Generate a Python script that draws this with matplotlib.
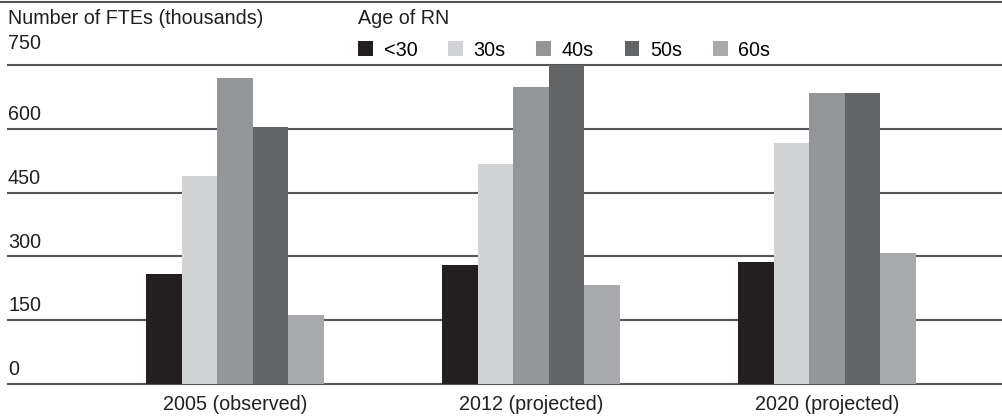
import matplotlib
matplotlib.use("Agg")
import matplotlib.pyplot as plt
import numpy as np
from matplotlib.lines import Line2D
from matplotlib.patches import Patch

# data
groups = ["2005 (observed)", "2012 (projected)", "2020 (projected)"]
ages = ["<30", "30s", "40s", "50s", "60s"]
under30 = [259, 280, 287]
thirties = [489, 517, 567]
forties = [720, 698, 684]
fifties = [605, 752, 684]
sixties = [162, 233, 308]
yticks = [0, 150, 300, 450, 600, 750]

colors = ["#231f20", "#d1d2d4", "#939598", "#636466", "#a7a9ac"]
series = [under30, thirties, forties, fifties, sixties]

plt.rcParams['font.family'] = ['Liberation Sans', 'DejaVu Sans']
plt.rcParams['font.size'] = 14.2

W, H = 1002, 420
fig = plt.figure(figsize=(W / 100, H / 100), dpi=100)
# axes: pixel x 8..1002, y 65 (750) .. 384 (0)
ax = fig.add_axes([8 / W, (H - 384) / H, (W - 8) / W, 319 / H])

x = np.arange(len(groups))
width = 0.12
for i, (vals, c) in enumerate(zip(series, colors)):
    ax.bar(x + (i - 2) * width, vals, width, color=c, zorder=3, linewidth=0)

ax.set_ylim(0, 750)
ax.set_xlim(-227 / 296, 2 + 175 / 296)

# gridlines with labels sitting above them (top label sits a bit higher)
for t in yticks:
    ax.axhline(t, color="#555555", lw=1.5, zorder=2, clip_on=False)
    off = 8.5 if t == yticks[-1] else 3.5
    ax.annotate(str(t), xy=(0, t), xycoords=("axes fraction", "data"),
                xytext=(0, off), textcoords="offset points",
                ha="left", va="bottom", color="#231f20")

for s in ax.spines.values():
    s.set_visible(False)
ax.set_yticks([])
ax.set_xticks(x)
ax.set_xticklabels(groups, color="#231f20")
ax.tick_params(axis="x", length=0, pad=8)

# top rule
fig.add_artist(Line2D([0, 1], [1 - 1.5 / H, 1 - 1.5 / H], color="#555555", lw=1.5))

fig.text(8 / W, 1 - 18 / H, "Number of FTEs (thousands)", ha="left", va="center", color="#231f20")
fig.text(358 / W, 1 - 18 / H, "Age of RN", ha="left", va="center", color="#231f20")

handles = [Patch(facecolor=c, edgecolor="none") for c in colors]
fig.legend(handles, ages, loc="center left", bbox_to_anchor=(358 / W, 1 - 50 / H),
           ncol=5, frameon=False, handlelength=0.75, handleheight=0.75,
           handletextpad=0.55, columnspacing=1.55, borderaxespad=0, borderpad=0)

fig.savefig("out.png", dpi=100)
